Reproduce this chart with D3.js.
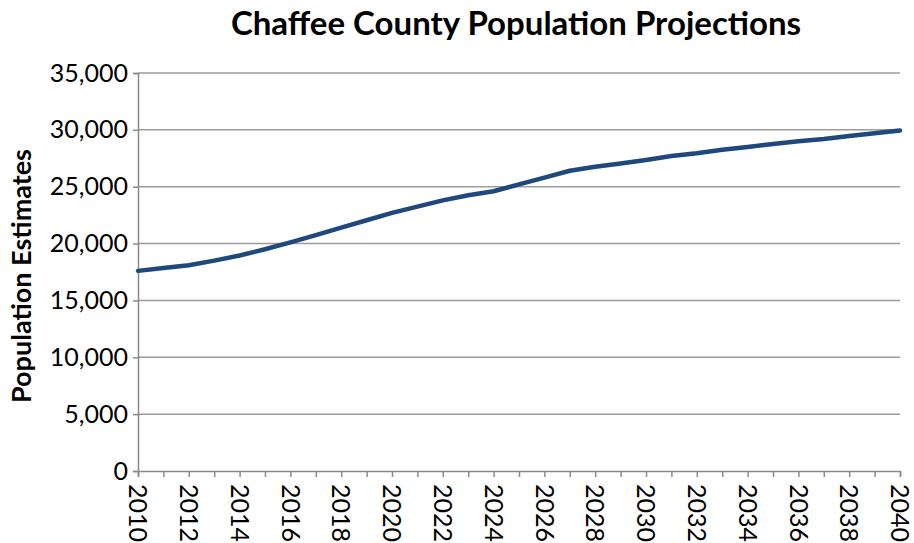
<!DOCTYPE html>
<html>
<head>
<meta charset="utf-8">
<script src="https://cdn.jsdelivr.net/npm/d3@7"></script>
<style>
  body { margin: 0; background: #fff; }
  text { font-family: Lato, "Open Sans", sans-serif; fill: #000; }
</style>
</head>
<body>
<div id="chart"></div>
<script>
// data
var years = [2010, 2011, 2012, 2013, 2014, 2015, 2016, 2017, 2018, 2019, 2020,
             2021, 2022, 2023, 2024, 2025, 2026, 2027, 2028, 2029, 2030,
             2031, 2032, 2033, 2034, 2035, 2036, 2037, 2038, 2039, 2040];
var population = [17600, 17850, 18100, 18500, 18950, 19500, 20100, 20750, 21400, 22050, 22700,
                  23250, 23800, 24250, 24600, 25200, 25800, 26400, 26750, 27050, 27350,
                  27700, 27950, 28250, 28500, 28750, 29000, 29200, 29450, 29700, 29950];
var yTicks = [0, 5000, 10000, 15000, 20000, 25000, 30000, 35000];
var xLabels = [2010, 2012, 2014, 2016, 2018, 2020, 2022, 2024, 2026, 2028, 2030,
               2032, 2034, 2036, 2038, 2040];

var width = 914, height = 543;
var margin = {top: 73, right: 14, bottom: 72, left: 138};

var svg = d3.select("#chart").append("svg")
    .attr("width", width)
    .attr("height", height);

var x = d3.scaleLinear()
    .domain([2010, 2040])
    .range([margin.left, 900]);

var y = d3.scaleLinear()
    .domain([0, 35000])
    .range([471, margin.top]);

// gridlines
svg.append("g")
    .selectAll("line")
    .data(yTicks.slice(1))
    .enter().append("line")
    .attr("x1", x(2010))
    .attr("x2", x(2040))
    .attr("y1", function(d) { return y(d); })
    .attr("y2", function(d) { return y(d); })
    .attr("stroke", "#9c9c9c")
    .attr("stroke-width", 1.5);

// y axis
var yAxis = svg.append("g")
    .attr("transform", "translate(" + x(2010) + ",0)")
    .call(d3.axisLeft(y).tickValues(yTicks).tickSize(5).tickPadding(5)
        .tickFormat(d3.format(",")));
yAxis.select(".domain").attr("stroke", "#8a8a8a").attr("stroke-width", 1.5);
yAxis.selectAll(".tick line").attr("stroke", "#8a8a8a").attr("stroke-width", 1.5);
yAxis.selectAll("text")
    .style("font-size", "25px")
    .attr("fill", "#000");

// x axis, a tick every year, label every other year
var xAxis = svg.append("g")
    .attr("transform", "translate(0," + y(0) + ")")
    .call(d3.axisBottom(x).tickValues(years).tickSize(6).tickFormat(""));
xAxis.select(".domain").attr("stroke", "#8a8a8a").attr("stroke-width", 1.5);
xAxis.selectAll(".tick line").attr("stroke", "#8a8a8a").attr("stroke-width", 1.5);

svg.append("g")
    .selectAll("text")
    .data(xLabels)
    .enter().append("text")
    .attr("transform", function(d) { return "translate(" + x(d) + "," + 484 + ") rotate(90)"; })
    .attr("dy", "0.35em")
    .style("font-size", "25px")
    .text(function(d) { return d; });

// line
var line = d3.line()
    .x(function(d, i) { return x(years[i]); })
    .y(function(d) { return y(d); });

svg.append("path")
    .datum(population)
    .attr("d", line)
    .attr("fill", "none")
    .attr("stroke", "#1f497d")
    .attr("stroke-width", 4.5)
    .attr("stroke-linejoin", "round")
    .attr("stroke-linecap", "round");

// title
svg.append("text")
    .attr("x", 516)
    .attr("y", 35)
    .attr("text-anchor", "middle")
    .style("font-size", "33px")
    .style("font-weight", "bold")
    .text("Chaffee County Population Projections");

// y axis title
svg.append("text")
    .attr("transform", "translate(31,276) rotate(-90)")
    .attr("text-anchor", "middle")
    .style("font-size", "27px")
    .style("font-weight", "bold")
    .text("Population Estimates");
</script>
</body>
</html>
